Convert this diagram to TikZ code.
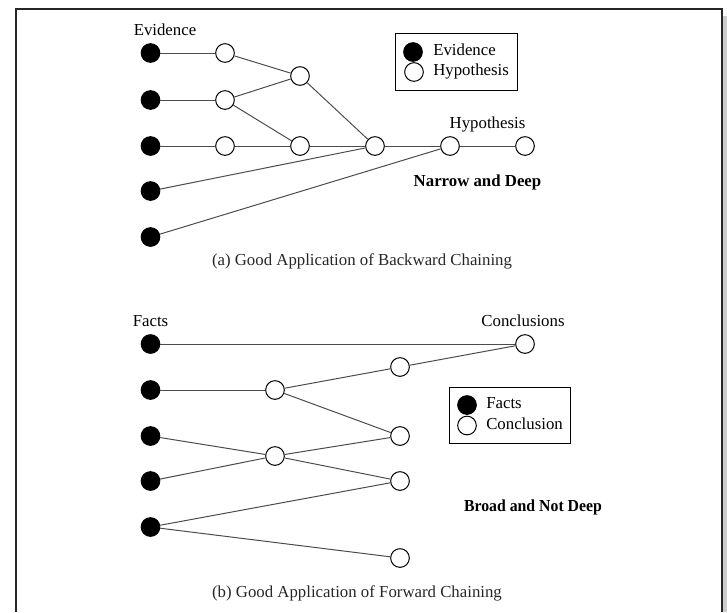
\documentclass[tikz,border=0pt]{standalone}
\usepackage{graphicx}
\usepackage{fontspec}
\setmainfont{Liberation Serif}
\begin{document}
\begin{tikzpicture}[x=0.75pt,y=-0.75pt,
  fact/.style={circle,fill=black,draw=black,line width=0.75pt,minimum size=14pt,inner sep=0pt},
  concl/.style={circle,fill=white,draw=black,line width=0.75pt,minimum size=14pt,inner sep=0pt},
  edge/.style={draw=black!70,line width=0.75pt},
  lbl/.style={font=\fontsize{12.6}{14}\selectfont,inner sep=0pt,text=black},
  boldlbl/.style={lbl,font=\fontsize{12.6}{14}\selectfont\bfseries},
  captxt/.style={lbl,text=black!85},
  legbox/.style={draw=black,line width=0.75pt,fill=white}]
\useasboundingbox (0,0) rectangle (727,612);
% page frame
\fill[black!20] (723,16) rectangle (727,612);
\draw[line width=1.5pt,black!85] (16,612) -- (16,9) -- (722,9) -- (722,612);

% ---------- (a) backward chaining ----------
\node[fact] (ea) at (150.5,53) {};
\node[fact] (eb) at (150.5,100) {};
\node[fact] (ec) at (150.5,146) {};
\node[fact] (ed) at (150.5,191) {};
\node[fact] (ee) at (150.5,237) {};
\node[concl] (ha) at (225,53) {};
\node[concl] (hb) at (225,100) {};
\node[concl] (hc) at (225,146) {};
\node[concl] (hd) at (300,76) {};
\node[concl] (he) at (300,146) {};
\node[concl] (hf) at (375,146) {};
\node[concl] (hg) at (450,146) {};
\node[concl] (hh) at (525,146) {};

\draw[edge] (ea) -- (ha);
\draw[edge] (ha) -- (hd);
\draw[edge] (eb) -- (hb);
\draw[edge] (hb) -- (hd);
\draw[edge] (hb) -- (he);
\draw[edge] (ec) -- (hc);
\draw[edge] (hc) -- (he);
\draw[edge] (he) -- (hf);
\draw[edge] (hd) -- (hf);
\draw[edge] (ed) -- (hf);
\draw[edge] (hf) -- (hg);
\draw[edge] (ee) -- (hg);
\draw[edge] (hg) -- (hh);

\node[lbl,anchor=base] (tevid) at (165,35.5) {Evidence};
\node[lbl,anchor=base] (thyp) at (487.5,128) {Hypothesis};
\node[boldlbl,anchor=base] (tnarrow) at (477.5,186) {Narrow and Deep};
\node[captxt,anchor=base] (capa) at (362,265) {(a) Good Application of Backward Chaining};

\draw[legbox] (395,33) rectangle (517,90);
\node[fact] (lga) at (413,52) {};
\node[concl] (lgb) at (414,72) {};
\node[lbl,anchor=base west] (lgta) at (433,55) {Evidence};
\node[lbl,anchor=base west] (lgtb) at (433,75) {Hypothesis};

% ---------- (b) forward chaining ----------
\node[fact] (fa) at (150.5,344) {};
\node[fact] (fb) at (150.5,390) {};
\node[fact] (fc) at (150.5,436) {};
\node[fact] (fd) at (150.5,481) {};
\node[fact] (fe) at (150.5,527) {};
\node[concl] (ca) at (525,344) {};
\node[concl] (cb) at (400,367) {};
\node[concl] (cc) at (275,390) {};
\node[concl] (cd) at (400,436) {};
\node[concl] (ce) at (275,456) {};
\node[concl] (cf) at (400,481) {};
\node[concl] (cg) at (400,558) {};

\draw[edge] (fa) -- (ca);
\draw[edge] (fb) -- (cc);
\draw[edge] (cc) -- (cb);
\draw[edge] (cb) -- (ca);
\draw[edge] (cc) -- (cd);
\draw[edge] (fc) -- (ce);
\draw[edge] (fd) -- (ce);
\draw[edge] (ce) -- (cd);
\draw[edge] (ce) -- (cf);
\draw[edge] (fe) -- (cf);
\draw[edge] (fe) -- (cg);

\node[lbl,anchor=base] (tfacts) at (150.5,326.7) {Facts};
\node[lbl,anchor=base] (tconc) at (523,326.7) {Conclusions};
\node[boldlbl,anchor=base] (tbroad) at (533,511) {\scalebox{0.94}[1]{Broad and Not Deep}};
\node[captxt,anchor=base] (capb) at (357,597.5) {(b) Good Application of Forward Chaining};

\draw[legbox] (449,387.5) rectangle (570.5,443);
\node[fact] (lgc) at (467,405) {};
\node[concl] (lgd) at (467,425.5) {};
\node[lbl,anchor=base west] (lgtc) at (486,408.7) {Facts};
\node[lbl,anchor=base west] (lgtd) at (486,429.3) {Conclusion};
\end{tikzpicture}
\end{document}
